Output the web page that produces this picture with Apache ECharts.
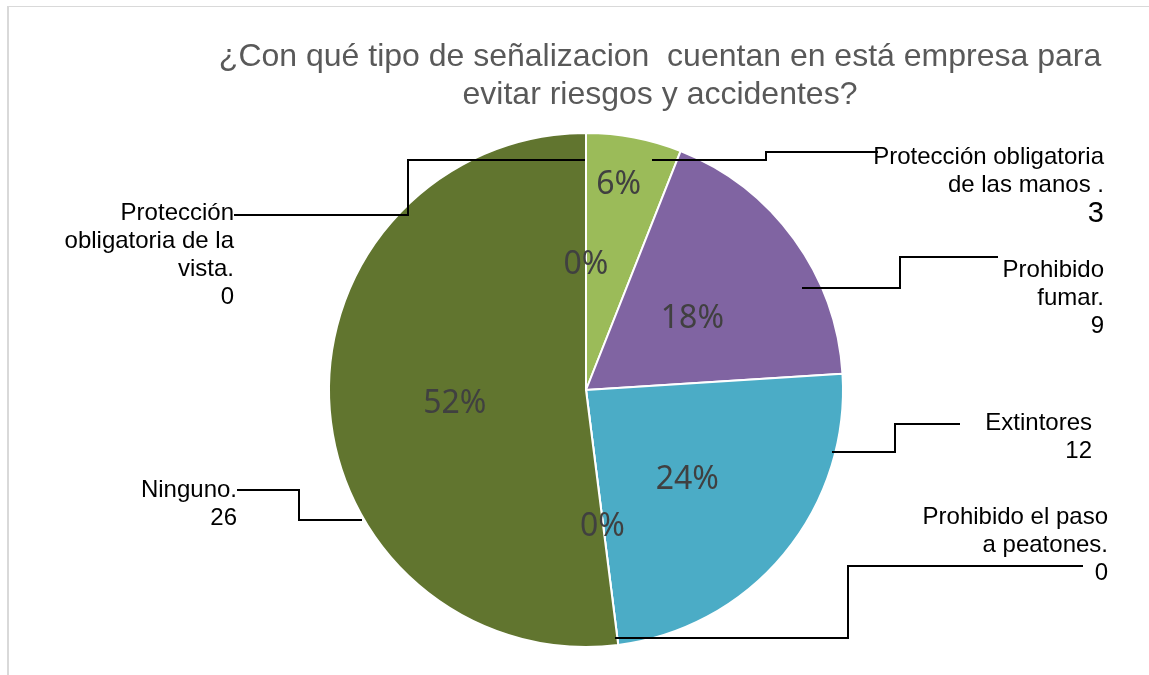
<!DOCTYPE html>
<html>
<head>
    <meta charset="utf-8">
    <script src="https://cdn.jsdelivr.net/npm/echarts@6/dist/echarts.min.js"></script>
</head>
<style type="text/css">
    body { margin: 0; background: #fff; }
    #frame { position: absolute; left: 7px; top: 6px; width: 1200px; height: 700px;
             border-left: 2px solid #d9d9d9; border-top: 1px solid #d9d9d9; }
    #chart { position: absolute; left: 0; top: 0; width: 1149px; height: 675px; }
</style>
<body>
<div id="frame"></div>
<div id="chart"></div>
<script>

let categories = [
    'Protección obligatoria\nde las manos .',
    'Prohibido\nfumar.',
    'Extintores',
    'Prohibido el paso\na peatones.',
    'Ninguno.',
    'Protección\nobligatoria de la\nvista.'
];
let values = [3, 9, 12, 0, 26, 0];
let colors = ['#9bbb59', '#8064a2', '#4bacc6', '#f79646', '#61752f', '#4f81bd'];

// where each outside label sits (right edge, top) and its elbow leader line
let labelBoxes = [
    {x: 1104, y: 143, line: [[652, 160], [766, 160], [766, 152], [878, 152]]},
    {x: 1104, y: 256, line: [[802, 288], [900, 288], [900, 257], [998, 257]]},
    {x: 1092, y: 409, line: [[832, 452], [895, 452], [895, 424], [960, 424]]},
    {x: 1108, y: 503, line: [[615, 638], [848, 638], [848, 566], [1083, 566]]},
    {x: 237, y: 476, line: [[362, 520], [299, 520], [299, 490], [237, 490]]},
    {x: 234, y: 199, line: [[585, 160], [408, 160], [408, 215], [234, 215]]}
];

let chart = echarts.init(document.getElementById('chart'));

let option = {
    animation: false,
    title: {
        text: '¿Con qué tipo de señalizacion  cuentan en está empresa para\nevitar riesgos y accidentes?',
        left: 655,
        top: 33,
        textAlign: 'center',
        textStyle: {
            color: '#595959',
            fontFamily: 'Liberation Sans',
            fontWeight: 'normal',
            fontSize: 32,
            lineHeight: 38
        }
    },
    series: [
        {
            // the slices with their percentage labels
            type: 'pie',
            center: [586, 390],
            radius: 257,
            startAngle: 90,
            clockwise: true,
            avoidLabelOverlap: false,
            silent: true,
            itemStyle: {borderColor: '#fff', borderWidth: 2},
            label: {
                show: true,
                position: 'inside',
                formatter: '{d}%',
                color: '#404040',
                fontFamily: 'Noto Sans',
                fontSize: 32
            },
            labelLine: {show: false},
            labelLayout: params => params.dataIndex === 0 ? {dx: 8, dy: -76} : {dy: 6},
            data: categories.map((name, i) => ({name: name, value: values[i], itemStyle: {color: colors[i]}}))
        },
        {
            // transparent copy on top that carries the category labels and leader lines
            type: 'pie',
            z: 3,
            center: [586, 390],
            radius: 257,
            startAngle: 90,
            clockwise: true,
            avoidLabelOverlap: false,
            silent: true,
            itemStyle: {color: 'rgba(0,0,0,0)', borderWidth: 0},
            label: {
                show: true,
                position: 'outside',
                color: '#000',
                fontFamily: 'Liberation Sans',
                fontSize: 24,
                lineHeight: 28,
                align: 'right',
                formatter: p => p.name + '\n' + (p.dataIndex === 0 ? '{big|' + p.value + '}' : p.value),
                rich: {
                    big: {fontSize: 29, lineHeight: 30, color: '#000', fontFamily: 'Liberation Sans', align: 'right'}
                }
            },
            labelLine: {show: true, lineStyle: {color: '#000', width: 2}},
            labelLayout: params => {
                let b = labelBoxes[params.dataIndex];
                return {x: b.x, y: b.y, align: 'right', verticalAlign: 'top', labelLinePoints: b.line};
            },
            data: categories.map((name, i) => ({name: name, value: values[i]}))
        }
    ]
};

chart.setOption(option);

</script>
</body>
</html>
